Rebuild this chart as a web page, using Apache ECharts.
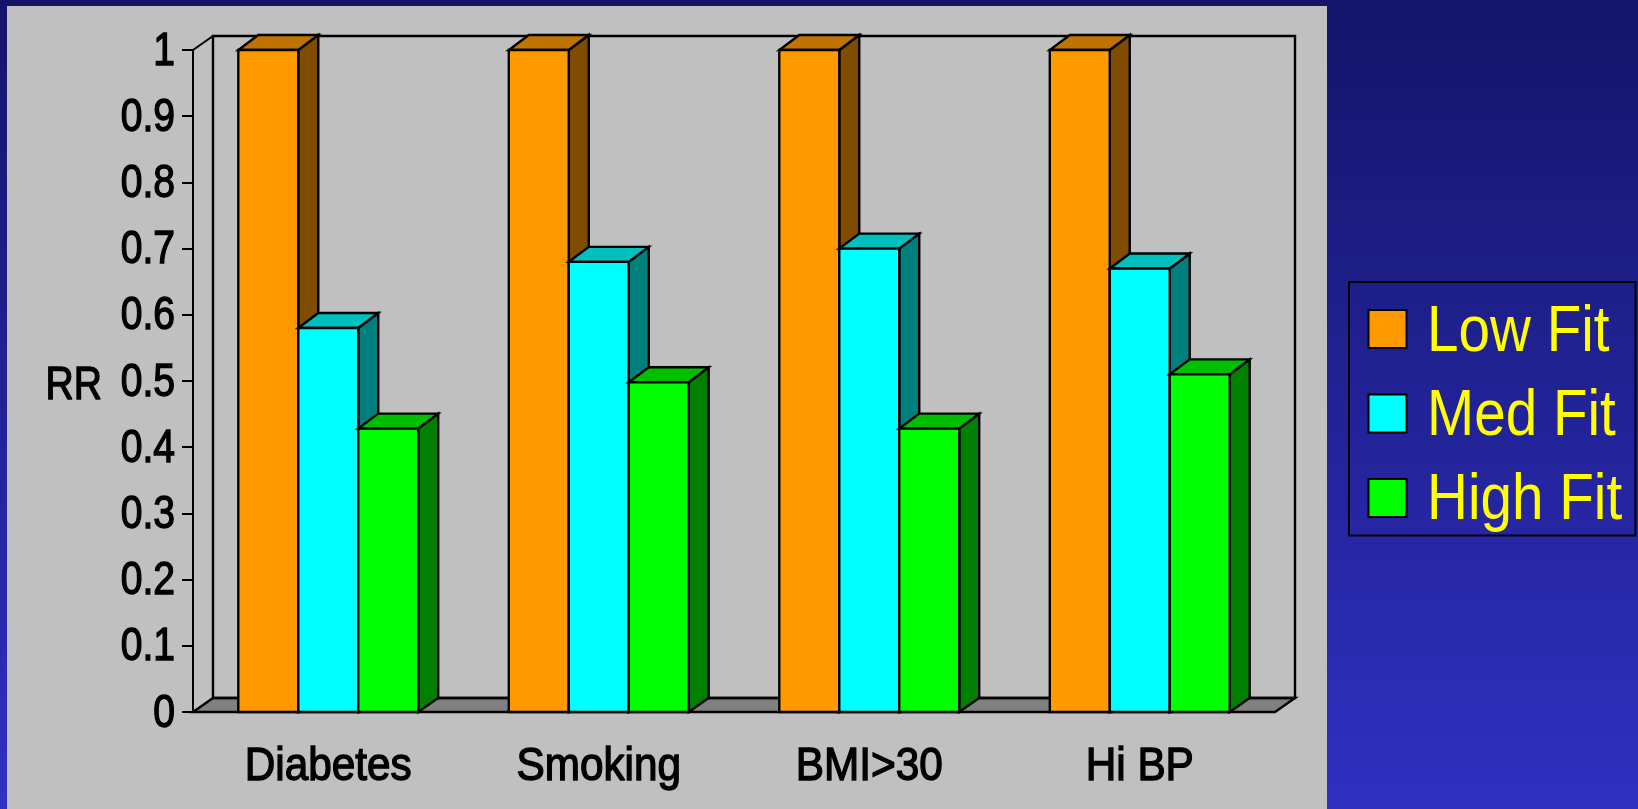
<!DOCTYPE html>
<html>
<head>
<meta charset="utf-8">
<style>html,body{margin:0;padding:0;background:#000}#chart{width:1638px;height:809px}</style>
<script src="https://cdn.jsdelivr.net/npm/echarts@6/dist/echarts.min.js"></script>
</head>
<body>
<div id="chart"></div>
<script>
// Relative risk by fitness level for four risk factors
const categories = ['Diabetes', 'Smoking', 'BMI>30', 'Hi BP'];
const lowFit = [1, 1, 1, 1];
const medFit = [0.58, 0.68, 0.70, 0.67];
const highFit = [0.428, 0.498, 0.428, 0.51];
const yTicks = [0, 0.1, 0.2, 0.3, 0.4, 0.5, 0.6, 0.7, 0.8, 0.9, 1];
const legendNames = ['Low Fit', 'Med Fit', 'High Fit'];

const SANS = '"Liberation Sans",Arial,sans-serif';
const AXIS_FONT = '46px ' + SANS;
const AXIS_STROKE = 1.4;            // thickens the regular face
const Y_SQUEEZE = 0.85;             // axis text is set condensed
const X_SQUEEZE = 0.92;
const LEGEND_SQUEEZE = 0.885;
const DX = 20, DY = -14;            // depth of the back wall and floor
const BOX_DY = -15;                 // depth of the bar tops
const BAR_SHARE = 0.2217;           // one bar's share of a category band

function poly(points, fill) {
  return {
    type: 'polygon',
    shape: { points },
    style: { fill, stroke: '#000', lineWidth: 2.4, lineJoin: 'miter' }
  };
}

function axisText(text, x, y, align, squeeze) {
  return {
    type: 'text',
    x, y,
    scaleX: squeeze,
    style: {
      text, font: AXIS_FONT, fill: '#000', stroke: '#000', lineWidth: AXIS_STROKE,
      align, verticalAlign: 'middle'
    }
  };
}

// Back wall and floor behind the bars
function renderWall(params) {
  const c = params.coordSys;
  const l = c.x, r = c.x + c.width, t = c.y, b = c.y + c.height;
  return {
    type: 'group',
    children: [
      poly([[l, b], [r, b], [r + DX, b + DY], [l + DX, b + DY]], '#808080'),
      poly([[l + DX, t + DY], [r + DX, t + DY], [r + DX, b + DY], [l + DX, b + DY]], 'transparent'),
      { type: 'line', shape: { x1: l, y1: t, x2: l + DX, y2: t + DY }, style: { stroke: '#000', lineWidth: 2 } }
    ]
  };
}

// One extruded bar: side and top faces first, then the front face
function boxRenderer(slot, front, top, side) {
  return function (params, api) {
    const p = api.coord([api.value(0), api.value(1)]);
    const base = api.coord([api.value(0), 0]);
    const w = api.size([1, 0])[0] * BAR_SHARE;
    const x0 = p[0] + (slot - 1.5) * w, x1 = x0 + w;
    const yT = p[1], yB = base[1];
    return {
      type: 'group',
      children: [
        poly([[x1, yB], [x1 + DX, yB + DY], [x1 + DX, yT + BOX_DY], [x1, yT]], side),
        poly([[x0, yT], [x1, yT], [x1 + DX, yT + BOX_DY], [x0 + DX, yT + BOX_DY]], top),
        poly([[x0, yT], [x1, yT], [x1, yB], [x0, yB]], front)
      ]
    };
  };
}

function boxSeries(name, values, slot, front, top, side) {
  return {
    name,
    type: 'custom',
    clip: false,
    renderItem: boxRenderer(slot, front, top, side),
    encode: { x: 0, y: 1 },
    data: values.map((v, i) => [i, v]),
    itemStyle: { color: front, borderColor: '#000', borderWidth: 2 }
  };
}

// Condensed axis labels placed through the axes' own scales
const yLabelSeries = {
  name: 'y labels',
  type: 'custom',
  clip: false,
  silent: true,
  encode: { x: 0, y: 1 },
  data: yTicks.map(v => [0, v]),
  renderItem(params, api) {
    const y = api.coord([0, api.value(1)])[1] + 2;
    return axisText(String(api.value(1)), params.coordSys.x - 18, y, 'right', Y_SQUEEZE);
  }
};
const xLabelSeries = {
  name: 'x labels',
  type: 'custom',
  clip: false,
  silent: true,
  encode: { x: 0, y: 1 },
  data: categories.map((c, i) => [i, 0]),
  renderItem(params, api) {
    const p = api.coord([api.value(0), 0]);
    return axisText(categories[api.value(0)], p[0], p[1] + 55, 'center', X_SQUEEZE);
  }
};

const legendTextY = [333, 417, 501];

const chart = echarts.init(document.getElementById('chart'), null, { renderer: 'canvas' });
chart.setOption({
  animation: false,
  backgroundColor: {
    type: 'linear', x: 0, y: 0, x2: 0, y2: 1,
    colorStops: [{ offset: 0, color: '#14146a' }, { offset: 1, color: '#3030c2' }]
  },
  graphic: [
    { type: 'rect', z: -10, shape: { x: 7, y: 6, width: 1320, height: 803 }, style: { fill: '#c0c0c0' } },
    axisText('RR', 102, 386, 'right', Y_SQUEEZE)
  ].concat(legendNames.map((name, i) => ({
    type: 'text',
    x: 1427,
    y: legendTextY[i],
    scaleX: LEGEND_SQUEEZE,
    z: 10,
    style: { text: name, font: '64px ' + SANS, fill: '#ffff00', align: 'left', verticalAlign: 'middle' }
  }))),
  grid: { left: 193, right: 363, top: 50, bottom: 97 },
  legend: {
    orient: 'vertical',
    left: 1349,
    top: 282,
    padding: [27, 228, 17.5, 18.5],
    icon: 'rect',
    itemWidth: 38,
    itemHeight: 38,
    itemGap: 44.5,
    borderColor: '#000',
    borderWidth: 2,
    data: legendNames,
    formatter: () => '',
    selectedMode: false
  },
  xAxis: {
    type: 'category',
    data: categories,
    axisLine: { lineStyle: { color: '#000', width: 2 } },
    axisTick: { length: 11, lineStyle: { color: '#000', width: 2 } },
    axisLabel: { show: false }
  },
  yAxis: {
    type: 'value',
    min: 0,
    max: 1,
    interval: 0.1,
    splitLine: { show: false },
    axisLine: { show: true, lineStyle: { color: '#000', width: 2 } },
    axisTick: { show: true, length: 11, lineStyle: { color: '#000', width: 2 } },
    axisLabel: { show: false }
  },
  series: [
    { name: 'wall', type: 'custom', clip: false, renderItem: renderWall, data: [[0, 0]], encode: { x: 0, y: 1 }, silent: true },
    boxSeries('Low Fit', lowFit, 0, '#ff9900', '#bf7300', '#7f4c00'),
    boxSeries('Med Fit', medFit, 1, '#00ffff', '#00bfbf', '#007f7f'),
    boxSeries('High Fit', highFit, 2, '#00ff00', '#00bf00', '#007f00'),
    yLabelSeries,
    xLabelSeries
  ]
});
</script>
</body>
</html>
